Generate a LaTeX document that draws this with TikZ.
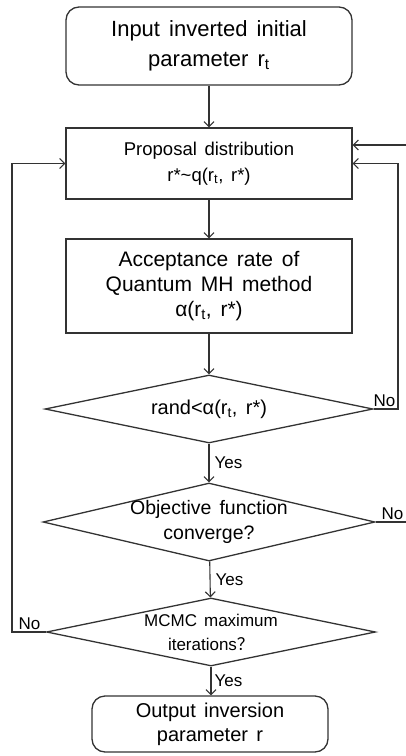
\documentclass[tikz,border=0pt]{standalone}
\usepackage{fontspec}
\setmainfont{Liberation Sans}[WordSpace=1.5]
\newfontfamily\cjk{Noto Sans CJK SC}
\usetikzlibrary{arrows.meta,shapes.geometric}
\newcommand{\fs}[2]{\fontsize{#1}{#2}\selectfont}
\begin{document}
\begin{tikzpicture}[x=1pt,y=-1pt,
    line width=1.1pt, draw=black!80,
    >={Straight Barb[length=5pt,width=10pt]},
    terminal/.style={draw, rounded corners=13pt, line width=1.3pt, align=center, inner sep=0pt},
    process/.style={draw, line width=1.3pt, align=center, inner sep=0pt},
    decision/.style={draw, diamond, line width=1.3pt, inner sep=0pt},
    tag/.style={font=\fs{17}{20}, inner sep=2pt}]
      \useasboundingbox (0,0) rectangle (406,756);
      % boxes
      \node[terminal, minimum width=286pt, minimum height=78pt, font=\fs{22}{30}]
        (start) at (209,46) {Input inverted initial\\parameter r\textsubscript{t}};
      \node[process, minimum width=286pt, minimum height=71pt, font=\fs{18.5}{26}]
        (prop) at (209,163.5) {Proposal distribution\\r*\textasciitilde q(r\textsubscript{t}, r*)};
      \node[process, minimum width=286pt, minimum height=94pt, font=\fs{21}{25}]
        (acc) at (209,286) {Acceptance rate of\\Quantum MH method\\α(r\textsubscript{t}, r*)};
      % decisions
      \node[decision, minimum width=328pt, minimum height=68pt,
        label={[font=\fs{20}{24}]center:rand<α(r\textsubscript{t}, r*)}] (rand) at (209,409) {};
      \node[decision, minimum width=332pt, minimum height=78pt,
        label={[font=\fs{19.5}{25}, align=center]center:Objective function\\converge?}] (obj) at (209,522) {};
      \node[decision, minimum width=329pt, minimum height=68pt,
        label={[font=\fs{17}{24}, align=center]center:MCMC maximum\\iterations{\cjk ？}}] (mcmc) at (211,632) {};
      \node[terminal, minimum width=236pt, minimum height=56pt, font=\fs{20}{24}]
        (out) at (210,724) {Output inversion\\parameter r};
      % free ends
      \coordinate (rr) at (398,409);
      \coordinate (oe) at (406,522);
      \coordinate (ri) at (406,145);
      \coordinate (ll) at (12,632);
      % main flow
      \draw[->] (start) -- (prop);
      \draw[->] (prop) -- (acc);
      \draw[->] (acc) -- (rand);
      \draw[->] (rand) -- node[tag, right, xshift=3pt] {Yes} (obj);
      \draw[->] (obj) -- node[tag, right, xshift=3pt] {Yes} (mcmc);
      \draw[->] (mcmc.south) -- node[tag, right, xshift=1pt] {Yes} (out.north -| mcmc.south);
      % loops
      \draw[->] (rand.east) -- (rr) |- (prop.east);
      \node[tag, above left] at (rr) {No};
      \draw (obj.east) -- (oe);
      \node[tag, above left] at (oe) {No};
      \draw[->] (ri) -- (ri -| prop.east);
      \draw[->] (mcmc.west) -- (ll) |- (prop.west);
      \node[tag, above right, xshift=4pt] at (ll) {No};
    \end{tikzpicture}
\end{document}
